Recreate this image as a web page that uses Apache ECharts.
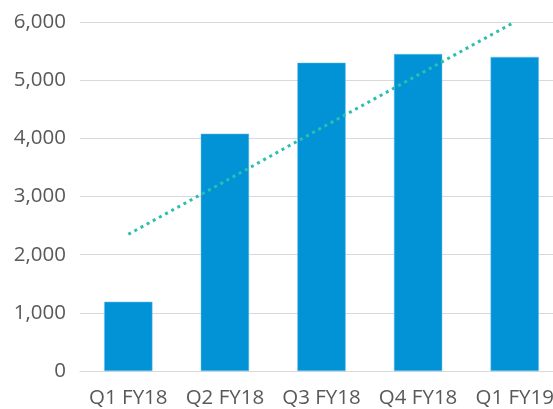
<!DOCTYPE html>
<html>
<head>
<meta charset="utf-8">
<script src="https://cdn.jsdelivr.net/npm/echarts@6/dist/echarts.min.js"></script>
<style>
  html, body { margin: 0; padding: 0; background: #fff; overflow: hidden; }
  #main { width: 580px; height: 409px; }
</style>
</head>
<body>
<div id="main"></div>
<script>
// quarters on the x axis
var quarters = ['Q1 FY18', 'Q2 FY18', 'Q3 FY18', 'Q4 FY18', 'Q1 FY19'];
// bar heights
var barValues = [1190, 4080, 5300, 5450, 5400];
// dotted trend line, read at each quarter
var trendValues = [2350, 3260, 4180, 5090, 6000];
var yTicks = [0, 1000, 2000, 3000, 4000, 5000, 6000];

var myChart = echarts.init(document.getElementById('main'));
var option = {
    animation: false,
    grid: { left: 80, top: 22, width: 483, height: 350 },
    xAxis: {
        type: 'category',
        data: quarters,
        axisLine: { show: true, lineStyle: { color: '#d9d9d9', width: 1 } },
        axisTick: { show: false },
        axisLabel: {
            interval: 0,
            color: '#595959',
            fontFamily: 'Open Sans',
            fontSize: 20.5,
            margin: 17
        }
    },
    yAxis: {
        type: 'value',
        min: yTicks[0],
        max: yTicks[yTicks.length - 1],
        interval: 1000,
        axisLine: { show: false },
        axisTick: { show: false },
        splitLine: { lineStyle: { color: '#d9d9d9', width: 1 } },
        axisLabel: {
            color: '#595959',
            fontFamily: 'Open Sans',
            fontSize: 20.5,
            margin: 14,
            formatter: function (v) { return v.toLocaleString('en-US'); }
        }
    },
    series: [
        {
            type: 'bar',
            data: barValues,
            barWidth: '50%',
            itemStyle: { color: '#0292d6', borderColor: '#6cc3ee', borderWidth: 0.5 }
        },
        {
            type: 'line',
            data: trendValues,
            symbol: 'none',
            z: 5,
            lineStyle: { color: '#2dbfad', width: 3, type: [3, 4], cap: 'butt' }
        }
    ]
};
myChart.setOption(option, true);
</script>
</body>
</html>
